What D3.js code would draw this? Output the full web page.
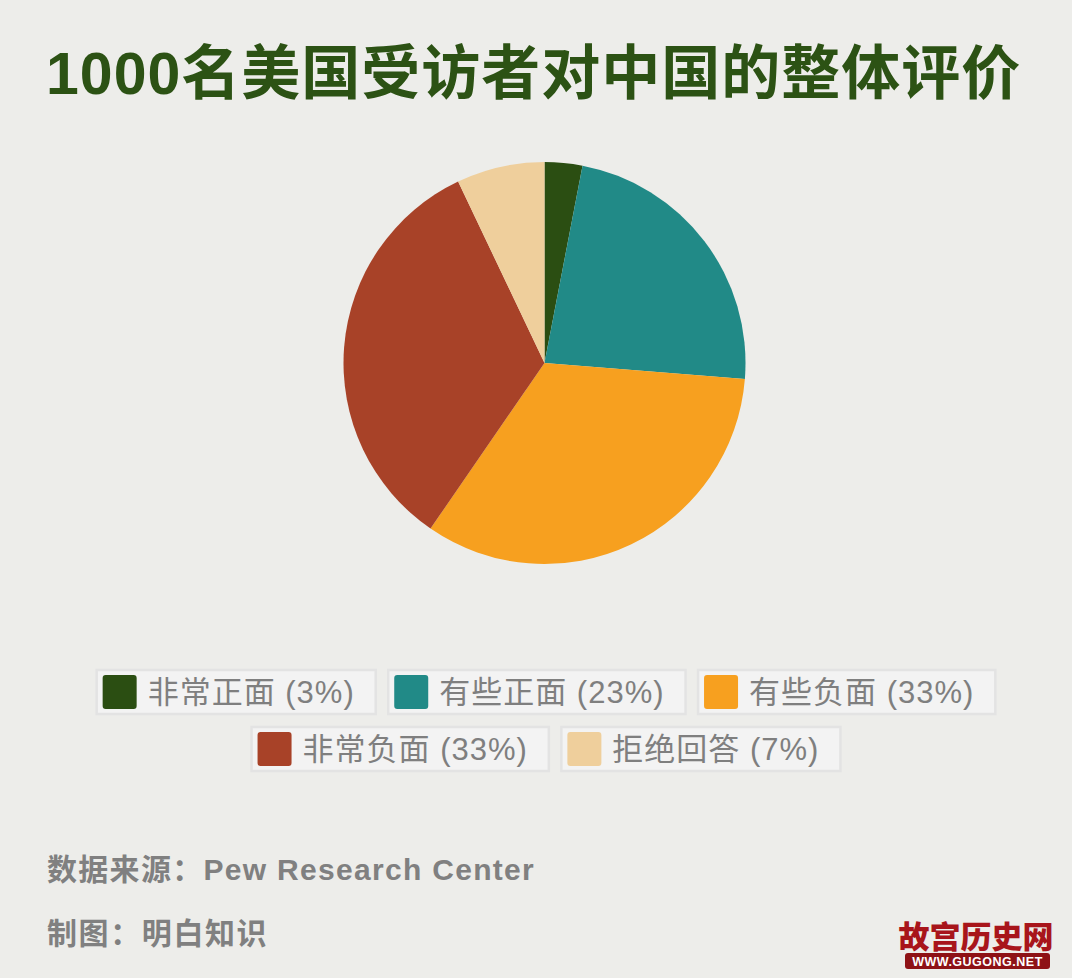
<!DOCTYPE html>
<html><head><meta charset="utf-8">
<script src="https://cdn.jsdelivr.net/npm/d3@7"></script>
<style>
html,body{margin:0;padding:0;background:#ededea;}
svg{display:block;}
</style></head>
<body>
<svg id="chart" width="1072" height="978"></svg>
<script>
const titleText = "1000名美国受访者对中国的整体评价";
const categories = ["非常正面", "有些正面", "有些负面", "非常负面", "拒绝回答"];
const values = [3, 23, 33, 33, 7];
const colors = ["#2b4e12", "#218a87", "#f7a01f", "#a84228", "#efcf9c"];
const legendRows = [[0, 1, 2], [3, 4]];
const sourceText = "数据来源：Pew Research Center";
const authorText = "制图：明白知识";

const svg = d3.select("#chart");
const W = 1072, H = 978;
svg.append("rect").attr("width", W).attr("height", H).attr("fill", "#ededea");

const latinCjk = "'Liberation Sans', Arial, 'Noto Sans CJK SC', sans-serif";

// Title
svg.append("text")
  .attr("x", 46).attr("y", 94)
  .attr("font-family", latinCjk)
  .attr("font-size", 59).attr("font-weight", "bold")
  .attr("letter-spacing", 1)
  .attr("fill", "#2c5214")
  .text(titleText);

// Pie
const cx = 544.5, cy = 363, r = 201;
const pie = d3.pie().sort(null).value(d => d)(values);
const arc = d3.arc().innerRadius(0).outerRadius(r);
svg.append("g").attr("transform", `translate(${cx},${cy})`)
  .selectAll("path").data(pie).join("path")
  .attr("d", arc)
  .attr("fill", (d, i) => colors[i]);

// Legend
const legendCenter = 546;
const rowTops = [670, 727];
const boxH = 44, sw = 34, gap = 12.5;
const lg = svg.append("g");
legendRows.forEach((row, ri) => {
  const items = row.map(i => {
    const g = lg.append("g");
    const box = g.append("rect");
    const sq = g.append("rect");
    const t = g.append("text")
      .attr("font-family", latinCjk)
      .attr("font-size", 31)
      .attr("letter-spacing", 1)
      .attr("fill", "#7f7f7f")
      .text(`${categories[i]} (${values[i]}%)`);
    const tw = t.node().getComputedTextLength();
    const w = 6 + sw + 11 + tw + 21;
    return {i, g, box, sq, t, w};
  });
  const total = d3.sum(items, d => d.w) + gap * (items.length - 1);
  let x = legendCenter - total / 2;
  const y = rowTops[ri];
  items.forEach(it => {
    it.box.attr("x", x).attr("y", y).attr("width", it.w).attr("height", boxH)
      .attr("fill", "#f3f3f3").attr("stroke", "#e3e3e3").attr("stroke-width", 2.5);
    it.sq.attr("x", x + 6).attr("y", y + 5).attr("width", sw).attr("height", sw)
      .attr("rx", 3).attr("fill", colors[it.i]);
    it.t.attr("x", x + 6 + sw + 11).attr("y", y + 33);
    x += it.w + gap;
  });
});

// Footer
svg.append("text").attr("x", 47).attr("y", 880)
  .attr("font-family", latinCjk).attr("font-size", 30).attr("font-weight", "bold")
  .attr("letter-spacing", 1.3)
  .attr("fill", "#808080").text(sourceText);
svg.append("text").attr("x", 47).attr("y", 944)
  .attr("font-family", latinCjk).attr("font-size", 30).attr("font-weight", "bold")
  .attr("letter-spacing", 1.6)
  .attr("fill", "#808080").text(authorText);

// Watermark
const wm = svg.append("g");
wm.append("text").attr("x", 976).attr("y", 948).attr("text-anchor", "middle")
  .attr("font-family", "'Noto Sans CJK SC', sans-serif").attr("font-size", 31)
  .attr("font-weight", "900").attr("fill", "#a8151b")
  .text("故宫历史网");
wm.append("rect").attr("x", 905).attr("y", 953).attr("width", 145).attr("height", 16)
  .attr("rx", 3).attr("fill", "#8e1216");
wm.append("text").attr("x", 977.5).attr("y", 966).attr("text-anchor", "middle")
  .attr("font-family", "'Liberation Sans', Arial, sans-serif").attr("font-size", 12.5)
  .attr("font-weight", "bold").attr("fill", "#ffffff").attr("letter-spacing", 0.5)
  .text("WWW.GUGONG.NET");
</script>
</body></html>
